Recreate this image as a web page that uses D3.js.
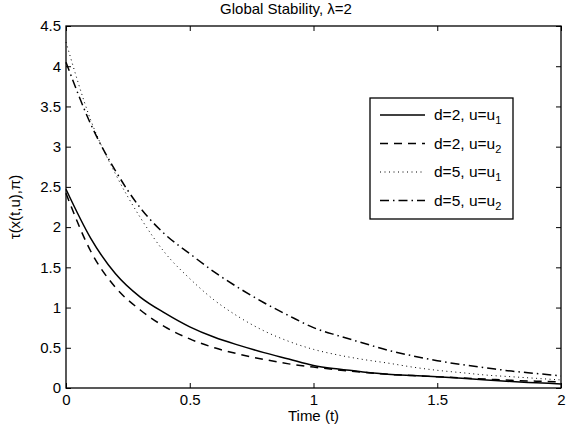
<!DOCTYPE html>
<meta charset="utf-8">
<style>
body { margin: 0; background: #fff; }
text { font-family: "Liberation Sans", Arial, Helvetica, sans-serif; fill: #000; }
.curve { fill: none; stroke: #000; }
</style>
<svg width="572" height="435"></svg>
<script src="https://d3js.org/d3.v7.min.js"></script>
<script>

// time grid and curves
var times = [0, 0.1, 0.2, 0.3, 0.4, 0.5, 0.6, 0.7, 0.8, 0.9, 1.0,
             1.1, 1.2, 1.3, 1.4, 1.5, 1.6, 1.7, 1.8, 1.9, 2.0];
var d2u1 = [2.47, 1.86, 1.42, 1.13, 0.93, 0.76, 0.63, 0.53, 0.44, 0.36, 0.28,
            0.235, 0.2, 0.172, 0.155, 0.14, 0.12, 0.1, 0.08, 0.065, 0.05];
var d2u2 = [2.42, 1.7, 1.25, 0.97, 0.76, 0.61, 0.5, 0.42, 0.355, 0.3, 0.26,
            0.225, 0.195, 0.17, 0.155, 0.14, 0.125, 0.11, 0.095, 0.085, 0.075];
var d5u1 = [4.3, 3.33, 2.66, 2.12, 1.68, 1.36, 1.09, 0.88, 0.71, 0.58, 0.48,
            0.41, 0.355, 0.31, 0.26, 0.22, 0.19, 0.16, 0.14, 0.12, 0.1];
var d5u2 = [4.05, 3.28, 2.7, 2.24, 1.91, 1.67, 1.44, 1.24, 1.06, 0.9, 0.75,
            0.65, 0.56, 0.47, 0.4, 0.34, 0.29, 0.25, 0.21, 0.18, 0.15];
var seriesNames = ["d=2, u=u", "d=2, u=u", "d=5, u=u", "d=5, u=u"];
var seriesSubs = ["1", "2", "1", "2"];
var xTicks = [0, 0.5, 1, 1.5, 2];
var yTicks = [0, 0.5, 1, 1.5, 2, 2.5, 3, 3.5, 4, 4.5];

var series = [
  {values: d2u1, dash: null, width: 1.5},
  {values: d2u2, dash: "8,6", width: 1.5},
  {values: d5u1, dash: "1,3.5", width: 1},
  {values: d5u2, dash: "9,4,1.5,4", width: 1.5}
];

var svg = d3.select("svg"),
    mLeft = 66, mRight = 561, mTop = 26, mBottom = 388;

var x = d3.scaleLinear().domain([0, 2]).range([mLeft, mRight]);
var y = d3.scaleLinear().domain([0, 4.5]).range([mBottom, mTop]);

// curves
var line = d3.line()
    .x(function(d) { return x(d[0]); })
    .y(function(d) { return y(d[1]); })
    .curve(d3.curveMonotoneX);

svg.append("g").selectAll("path")
  .data(series)
  .enter().append("path")
    .attr("class", "curve")
    .attr("stroke-width", function(d) { return d.width; })
    .attr("stroke-dasharray", function(d) { return d.dash; })
    .attr("d", function(d) { return line(times.map(function(t, i) { return [t, d.values[i]]; })); });

// axes with inward ticks on all four sides
var tl = 5;
svg.append("g").attr("transform", "translate(0," + mBottom + ")")
    .call(d3.axisBottom(x).tickValues(xTicks).tickSizeInner(-tl).tickSizeOuter(0).tickPadding(6)
      .tickFormat(d3.format("")));
svg.append("g").attr("transform", "translate(0," + mTop + ")")
    .call(d3.axisTop(x).tickValues(xTicks).tickSizeInner(-tl).tickSizeOuter(0).tickFormat(""));
svg.append("g").attr("transform", "translate(" + mLeft + ",0)")
    .call(d3.axisLeft(y).tickValues(yTicks).tickSizeInner(-tl).tickSizeOuter(0).tickPadding(5)
      .tickFormat(d3.format("")));
svg.append("g").attr("transform", "translate(" + mRight + ",0)")
    .call(d3.axisRight(y).tickValues(yTicks).tickSizeInner(-tl).tickSizeOuter(0).tickFormat(""));

svg.selectAll(".domain").remove();
svg.selectAll(".tick line").attr("stroke", "#000").attr("stroke-width", 1);
svg.selectAll(".tick text").attr("font-size", 15).attr("font-family", null);

svg.append("rect")
    .attr("x", mLeft).attr("y", mTop)
    .attr("width", mRight - mLeft).attr("height", mBottom - mTop)
    .attr("fill", "none").attr("stroke", "#000").attr("stroke-width", 1.3);

// labels
svg.append("text").attr("x", 286).attr("y", 14)
    .attr("text-anchor", "middle").attr("font-size", 15)
    .text("Global Stability, \u03bb=2");
svg.append("text").attr("x", (mLeft + mRight) / 2).attr("y", 421)
    .attr("text-anchor", "middle").attr("font-size", 15)
    .text("Time (t)");
svg.append("text")
    .attr("transform", "translate(20," + ((mTop + mBottom) / 2) + ") rotate(-90)")
    .attr("text-anchor", "middle").attr("font-size", 15)
    .text("\u03c4(x(t,u),\u03c0)");

// legend
var lg = svg.append("g");
lg.append("rect")
    .attr("x", 370).attr("y", 98).attr("width", 143).attr("height", 121)
    .attr("fill", "#fff").attr("stroke", "#000").attr("stroke-width", 1.3);

var rows = lg.selectAll("g.row")
  .data(series)
  .enter().append("g")
    .attr("class", "row")
    .attr("transform", function(d, i) { return "translate(0," + (115 + i * 28.5) + ")"; });

rows.append("line")
    .attr("x1", 380).attr("x2", 425).attr("y1", 0).attr("y2", 0)
    .attr("stroke", "#000")
    .attr("stroke-width", function(d) { return d.width; })
    .attr("stroke-dasharray", function(d) { return d.dash; });

var lt = rows.append("text")
    .attr("x", 434).attr("y", 5)
    .attr("font-size", 15.5)
    .text(function(d, i) { return seriesNames[i]; });
lt.append("tspan")
    .attr("dy", 4).attr("font-size", 11)
    .text(function(d, i) { return seriesSubs[i]; });

</script>
